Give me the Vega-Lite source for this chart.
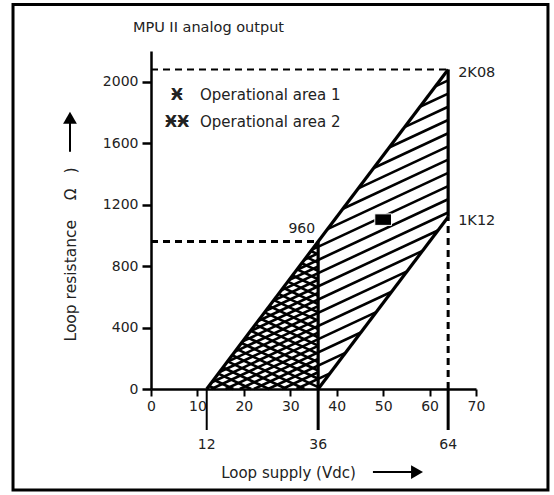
{
  "$schema": "https://vega.github.io/schema/vega-lite/v6.json",
  "autosize": {"type": "none"},
  "padding": {"left": 151, "top": 51, "right": 78, "bottom": 106},
  "width": 325,
  "height": 338,
  "background": "white",
  "config": {"view": {"stroke": null}, "font": "DejaVu Sans", "text": {"font": "DejaVu Sans"}},
  "datasets": {
    "outline": [
      {"v1": 12, "r1": 0, "v2": 64, "r2": 2080},
      {"v1": 36, "r1": 0, "v2": 64, "r2": 1120},
      {"v1": 36, "r1": 0, "v2": 36, "r2": 960},
      {"v1": 64, "r1": 1120, "v2": 64, "r2": 2080}
    ],
    "dashed": [
      {"v1": 0, "r1": 2080, "v2": 64, "r2": 2080},
      {"v1": 0, "r1": 960, "v2": 36, "r2": 960},
      {"v1": 64, "r1": 0, "v2": 64, "r2": 1120}
    ],
    "hatch": [
      {"set": "A", "v1": 31.32, "r1": 0, "v2": 38.55, "r2": 101.9},
      {"set": "A", "v1": 25.22, "r1": 0, "v2": 41.87, "r2": 234.8},
      {"set": "A", "v1": 19.12, "r1": 0, "v2": 45.19, "r2": 367.6},
      {"set": "A", "v1": 13.02, "r1": 0, "v2": 48.51, "r2": 500.4},
      {"set": "A", "v1": 14.76, "r1": 110.6, "v2": 51.83, "r2": 633.2},
      {"set": "A", "v1": 18.09, "r1": 243.4, "v2": 55.15, "r2": 766.0},
      {"set": "A", "v1": 21.41, "r1": 376.2, "v2": 58.47, "r2": 898.8},
      {"set": "A", "v1": 24.73, "r1": 509.0, "v2": 61.79, "r2": 1031.7},
      {"set": "A", "v1": 28.05, "r1": 641.8, "v2": 64, "r2": 1148.8},
      {"set": "A", "v1": 31.37, "r1": 774.7, "v2": 64, "r2": 1234.8},
      {"set": "A", "v1": 34.69, "r1": 907.5, "v2": 64, "r2": 1320.8},
      {"set": "A", "v1": 38.01, "r1": 1040.3, "v2": 64, "r2": 1406.8},
      {"set": "A", "v1": 41.33, "r1": 1173.1, "v2": 64, "r2": 1492.8},
      {"set": "A", "v1": 44.65, "r1": 1306.0, "v2": 64, "r2": 1578.8},
      {"set": "A", "v1": 47.97, "r1": 1438.8, "v2": 64, "r2": 1664.8},
      {"set": "A", "v1": 51.29, "r1": 1571.6, "v2": 64, "r2": 1750.8},
      {"set": "A", "v1": 54.61, "r1": 1704.4, "v2": 64, "r2": 1836.8},
      {"set": "A", "v1": 57.93, "r1": 1837.2, "v2": 64, "r2": 1922.8},
      {"set": "A", "v1": 61.25, "r1": 1970.0, "v2": 64, "r2": 2008.8},
      {"set": "A2", "v1": 28.27, "r1": 0, "v2": 36, "r2": 109},
      {"set": "A2", "v1": 22.17, "r1": 0, "v2": 36, "r2": 195},
      {"set": "A2", "v1": 16.07, "r1": 0, "v2": 36, "r2": 281},
      {"set": "A2", "v1": 13.10, "r1": 44.2, "v2": 36, "r2": 367},
      {"set": "A2", "v1": 16.43, "r1": 177.0, "v2": 36, "r2": 453},
      {"set": "A2", "v1": 19.75, "r1": 309.8, "v2": 36, "r2": 539},
      {"set": "A2", "v1": 23.07, "r1": 442.6, "v2": 36, "r2": 625},
      {"set": "A2", "v1": 26.39, "r1": 575.4, "v2": 36, "r2": 711},
      {"set": "A2", "v1": 29.71, "r1": 708.3, "v2": 36, "r2": 797},
      {"set": "A2", "v1": 33.03, "r1": 841.1, "v2": 36, "r2": 883},
      {"set": "B", "v1": 12.50, "r1": 20.0, "v2": 13.92, "r2": 0},
      {"set": "B", "v1": 13.50, "r1": 59.9, "v2": 17.74, "r2": 0},
      {"set": "B", "v1": 14.50, "r1": 99.8, "v2": 21.57, "r2": 0},
      {"set": "B", "v1": 15.49, "r1": 139.7, "v2": 25.40, "r2": 0},
      {"set": "B", "v1": 16.49, "r1": 179.7, "v2": 29.23, "r2": 0},
      {"set": "B", "v1": 17.49, "r1": 219.6, "v2": 33.06, "r2": 0},
      {"set": "B", "v1": 18.49, "r1": 259.5, "v2": 36, "r2": 12.6},
      {"set": "B", "v1": 19.49, "r1": 299.5, "v2": 36, "r2": 66.6},
      {"set": "B", "v1": 20.48, "r1": 339.4, "v2": 36, "r2": 120.6},
      {"set": "B", "v1": 21.48, "r1": 379.3, "v2": 36, "r2": 174.6},
      {"set": "B", "v1": 22.48, "r1": 419.2, "v2": 36, "r2": 228.6},
      {"set": "B", "v1": 23.48, "r1": 459.2, "v2": 36, "r2": 282.6},
      {"set": "B", "v1": 24.48, "r1": 499.1, "v2": 36, "r2": 336.6},
      {"set": "B", "v1": 25.48, "r1": 539.0, "v2": 36, "r2": 390.6},
      {"set": "B", "v1": 26.47, "r1": 578.9, "v2": 36, "r2": 444.6},
      {"set": "B", "v1": 27.47, "r1": 618.9, "v2": 36, "r2": 498.6},
      {"set": "B", "v1": 28.47, "r1": 658.8, "v2": 36, "r2": 552.6},
      {"set": "B", "v1": 29.47, "r1": 698.7, "v2": 36, "r2": 606.6},
      {"set": "B", "v1": 30.47, "r1": 738.7, "v2": 36, "r2": 660.6},
      {"set": "B", "v1": 31.46, "r1": 778.6, "v2": 36, "r2": 714.6},
      {"set": "B", "v1": 32.46, "r1": 818.5, "v2": 36, "r2": 768.6},
      {"set": "B", "v1": 33.46, "r1": 858.4, "v2": 36, "r2": 822.6},
      {"set": "B", "v1": 34.46, "r1": 898.4, "v2": 36, "r2": 876.6},
      {"set": "B", "v1": 35.46, "r1": 938.3, "v2": 36, "r2": 930.6}
    ],
    "marks": [{"v": 12}, {"v": 36}, {"v": 64}],
    "values": [
      {"v": 64, "r": 2080, "label": "2K08"},
      {"v": 64, "r": 1120, "label": "1K12"}
    ],
    "legend": [
      {"v": 10.55, "r": 1915, "sym": "Ӿ", "label": "Operational area 1"},
      {"v": 10.55, "r": 1739, "sym": "ӾӾ", "label": "Operational area 2"}
    ]
  },
  "layer": [
    {
      "data": {"name": "hatch"},
      "mark": {"type": "rule", "color": "black"},
      "encoding": {
        "x": {"field": "v1", "type": "quantitative", "scale": {"domain": [0, 70], "nice": false},
          "axis": {"values": [0, 10, 20, 30, 40, 50, 60, 70], "format": "d", "title": "Loop supply (Vdc)", "titleX": 137, "titleY": 83, "titleAlign": "center", "titleBaseline": "middle", "titleFontSize": 15, "titleFontWeight": "normal", "titleColor": "#222", "titleFont": "DejaVu Sans", "labelFont": "DejaVu Sans", "labelFontSize": 14, "labelColor": "#222", "labelPadding": 3, "labelOverlap": false, "labelFlush": false, "tickSize": 7, "tickWidth": 2, "tickColor": "black", "domainColor": "black", "domainWidth": 2.5, "grid": false}},
        "y": {"field": "r1", "type": "quantitative", "scale": {"domain": [0, 2200], "nice": false},
          "axis": {"values": [0, 200, 400, 600, 800, 1000, 1200, 1400, 1600, 1800, 2000, 2200], "format": "d", "labelExpr": "datum.value % 400 == 0 && datum.value <= 2000 ? datum.label : ''", "title": "Loop resistance\u00a0\u00a0\u00a0\u00a0Ω\u00a0\u00a0\u00a0)", "titleX": -81, "titleY": 203, "titleAngle": -90, "titleAlign": "center", "titleBaseline": "middle", "titleFontSize": 15.5, "titleFontWeight": "normal", "titleColor": "#222", "titleFont": "DejaVu Sans", "labelFont": "DejaVu Sans", "labelFontSize": 14, "labelColor": "#222", "labelPadding": 4, "labelOverlap": false, "labelFlush": false, "tickSize": 9, "tickWidth": 2.5, "tickColor": "black", "domainColor": "black", "domainWidth": 2.5, "grid": false}},
        "x2": {"field": "v2"},
        "y2": {"field": "r2"},
        "strokeWidth": {"condition": {"test": "datum.set == 'A'", "value": 2.6}, "value": 2.6}
      }
    },
    {
      "data": {"name": "dashed"},
      "mark": {"type": "rule", "color": "black", "strokeDash": [7, 5]},
      "encoding": {
        "x": {"field": "v1", "type": "quantitative"},
        "y": {"field": "r1", "type": "quantitative"},
        "x2": {"field": "v2"},
        "y2": {"field": "r2"},
        "strokeWidth": {"condition": {"test": "datum.r1 == 2080", "value": 2}, "value": 3}
      }
    },
    {
      "data": {"name": "outline"},
      "mark": {"type": "rule", "color": "black", "strokeWidth": 3.2},
      "encoding": {
        "x": {"field": "v1", "type": "quantitative"},
        "y": {"field": "r1", "type": "quantitative"},
        "x2": {"field": "v2"},
        "y2": {"field": "r2"}
      }
    },
    {
      "data": {"values": [{}]},
      "mark": {"type": "rect", "color": "black", "stroke": "white", "strokeWidth": 1},
      "encoding": {
        "x": {"datum": 48.2, "type": "quantitative"},
        "x2": {"datum": 51.8},
        "y": {"datum": 1065, "type": "quantitative"},
        "y2": {"datum": 1140}
      }
    },
    {
      "data": {"name": "marks"},
      "mark": {"type": "rule", "color": "black"},
      "encoding": {
        "x": {"field": "v", "type": "quantitative"},
        "y": {"datum": 0, "type": "quantitative"},
        "y2": {"datum": -267},
        "strokeWidth": {"condition": {"test": "datum.v == 12", "value": 2}, "value": 3}
      }
    },
    {
      "data": {"name": "marks"},
      "mark": {"type": "text", "fontSize": 14, "color": "#222", "baseline": "middle", "align": "center"},
      "encoding": {
        "x": {"field": "v", "type": "quantitative"},
        "y": {"datum": -365, "type": "quantitative"},
        "text": {"field": "v", "type": "quantitative"}
      }
    },
    {
      "data": {"name": "values"},
      "mark": {"type": "text", "fontSize": 14.5, "color": "#222", "baseline": "middle", "align": "left", "dx": 10, "dy": 4},
      "encoding": {
        "x": {"field": "v", "type": "quantitative"},
        "y": {"field": "r", "type": "quantitative"},
        "text": {"field": "label"}
      }
    },
    {
      "data": {"values": [{"v": 36, "r": 960, "label": "960"}]},
      "mark": {"type": "text", "fontSize": 14, "color": "#222", "baseline": "middle", "align": "right", "dx": -3, "dy": -13},
      "encoding": {
        "x": {"field": "v", "type": "quantitative"},
        "y": {"field": "r", "type": "quantitative"},
        "text": {"field": "label"}
      }
    },
    {
      "data": {"values": [{"v": -3.9, "r": 2352, "label": "MPU II analog output"}]},
      "mark": {"type": "text", "fontSize": 14.5, "color": "#222", "baseline": "middle", "align": "left"},
      "encoding": {
        "x": {"field": "v", "type": "quantitative"},
        "y": {"field": "r", "type": "quantitative"},
        "text": {"field": "label"}
      }
    },
    {
      "data": {"name": "legend"},
      "mark": {"type": "text", "fontSize": 15, "color": "#222", "baseline": "middle", "align": "left"},
      "encoding": {
        "x": {"field": "v", "type": "quantitative"},
        "y": {"field": "r", "type": "quantitative"},
        "text": {"field": "label"}
      }
    },
    {
      "data": {"name": "legend"},
      "mark": {"type": "text", "fontSize": 16, "fontWeight": "bold", "color": "#222", "baseline": "middle", "align": "center", "dx": -23},
      "encoding": {
        "x": {"field": "v", "type": "quantitative"},
        "y": {"field": "r", "type": "quantitative"},
        "text": {"field": "sym"}
      }
    },
    {
      "data": {"values": [{}]},
      "mark": {"type": "rule", "color": "black", "strokeWidth": 2},
      "encoding": {
        "x": {"datum": -17.45, "type": "quantitative"},
        "y": {"datum": 1544, "type": "quantitative"},
        "y2": {"datum": 1745}
      }
    },
    {
      "data": {"values": [{}]},
      "mark": {"type": "point", "shape": "triangle-up", "filled": true, "color": "black", "size": 190, "opacity": 1},
      "encoding": {
        "x": {"datum": -17.45, "type": "quantitative"},
        "y": {"datum": 1765, "type": "quantitative"}
      }
    },
    {
      "data": {"values": [{}]},
      "mark": {"type": "rule", "color": "black", "strokeWidth": 2},
      "encoding": {
        "x": {"datum": 47.8, "type": "quantitative"},
        "x2": {"datum": 56.5},
        "y": {"datum": -541, "type": "quantitative"}
      }
    },
    {
      "data": {"values": [{}]},
      "mark": {"type": "point", "shape": "triangle-right", "filled": true, "color": "black", "size": 190, "opacity": 1},
      "encoding": {
        "x": {"datum": 57.3, "type": "quantitative"},
        "y": {"datum": -541, "type": "quantitative"}
      }
    },
    {
      "data": {"values": [{}]},
      "mark": {"type": "rect", "fill": null, "stroke": "black", "strokeWidth": 3},
      "encoding": {
        "x": {"datum": -29.72, "type": "quantitative"},
        "x2": {"datum": 85.5},
        "y": {"datum": 2502, "type": "quantitative"},
        "y2": {"datum": -658}
      }
    }
  ]
}
